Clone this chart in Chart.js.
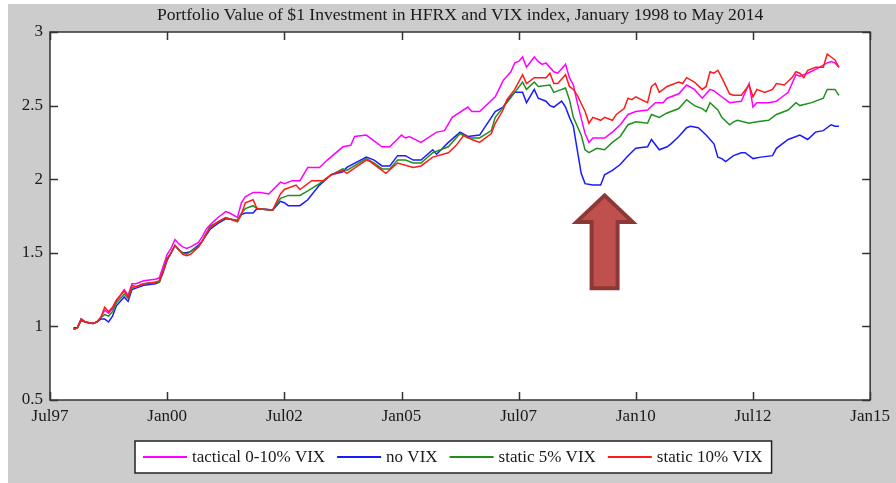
<!DOCTYPE html>
<html>
<head>
<meta charset="utf-8">
<script src="https://cdn.jsdelivr.net/npm/chart.js@4.4.1/dist/chart.umd.min.js"></script>
<style>
  html, body { margin: 0; padding: 0; background: #ffffff; overflow: hidden; }
  #wrap { position: absolute; left: 0; top: 0; width: 896px; height: 483px; }
</style>
</head>
<body>
<div id="wrap"><canvas id="c"></canvas></div>
<script>
// ---- Data (months counted from Jan 1998 = 0) ----
const chartTitle = 'Portfolio Value of $1 Investment in HFRX and VIX index, January 1998 to May 2014';
const seriesNames = ['tactical 0-10% VIX', 'no VIX', 'static 5% VIX', 'static 10% VIX'];

const xTickMonths = [-6, 24, 54, 84, 114, 144, 174, 204];
const xTickLabels = ['Jul97', 'Jan00', 'Jul02', 'Jan05', 'Jul07', 'Jan10', 'Jul12', 'Jan15'];
const yTickValues = [0.5, 1, 1.5, 2, 2.5, 3];

const tacticalMonths = [0,1,2,3,5,6,7,8,9,10,11,13,14,15,16,18,21,22,23,24,25,26,27,28,29,30,32,33,34,35,37,39,40,42,43,44,46,48,50,53,54,56,58,60,63,65,69,71,72,75,79,81,84,85,86,89,93,95,97,101,102,104,108,110,112,113,114,115,116,118,119,120,121,123,124,126,127,128,129,131,132,133,136,138,140,142,144,147,149,151,152,155,157,159,161,163,164,166,168,171,173,174,175,178,180,181,183,185,186,188,191,193,194,195,196];
const tacticalValues = [0.98,0.99,1.05,1.03,1.02,1.03,1.06,1.11,1.09,1.12,1.17,1.25,1.21,1.29,1.29,1.31,1.32,1.33,1.41,1.49,1.53,1.59,1.56,1.54,1.53,1.54,1.57,1.61,1.66,1.69,1.74,1.78,1.77,1.74,1.84,1.88,1.91,1.91,1.90,1.98,1.97,1.99,1.99,2.08,2.08,2.13,2.22,2.23,2.29,2.30,2.22,2.22,2.30,2.28,2.29,2.25,2.32,2.33,2.42,2.49,2.46,2.46,2.56,2.67,2.73,2.79,2.80,2.83,2.76,2.83,2.80,2.78,2.79,2.73,2.72,2.78,2.69,2.64,2.52,2.31,2.25,2.28,2.28,2.32,2.37,2.44,2.46,2.47,2.52,2.52,2.55,2.58,2.64,2.61,2.55,2.61,2.60,2.56,2.52,2.53,2.65,2.49,2.52,2.52,2.53,2.55,2.59,2.71,2.70,2.72,2.76,2.79,2.80,2.79,2.76];

const noVixMonths = [0,1,2,3,5,6,7,8,9,10,11,13,14,15,16,18,21,22,23,24,25,26,27,28,29,30,32,33,34,35,37,39,40,42,43,44,46,47,51,53,54,55,58,60,63,66,69,70,75,77,79,81,83,85,87,89,92,93,96,99,101,104,108,110,111,113,115,116,118,119,121,122,123,125,126,127,128,129,130,131,133,135,136,138,140,142,144,147,148,150,152,153,155,157,158,160,162,164,165,166,167,169,171,172,174,176,179,180,183,186,188,190,192,194,195,196];
const noVixValues = [0.99,0.99,1.04,1.03,1.02,1.03,1.05,1.05,1.03,1.07,1.14,1.20,1.17,1.25,1.26,1.28,1.29,1.30,1.37,1.45,1.50,1.55,1.52,1.50,1.50,1.51,1.55,1.58,1.62,1.66,1.70,1.73,1.73,1.72,1.76,1.77,1.77,1.80,1.79,1.85,1.84,1.82,1.82,1.86,1.96,2.03,2.05,2.08,2.15,2.13,2.09,2.09,2.16,2.16,2.13,2.13,2.20,2.17,2.25,2.32,2.29,2.30,2.46,2.49,2.53,2.59,2.59,2.52,2.61,2.55,2.53,2.50,2.49,2.53,2.49,2.42,2.36,2.20,2.04,1.97,1.96,1.96,2.03,2.06,2.10,2.16,2.21,2.22,2.27,2.20,2.22,2.24,2.29,2.35,2.36,2.35,2.30,2.24,2.15,2.14,2.12,2.16,2.18,2.18,2.14,2.15,2.16,2.21,2.27,2.30,2.27,2.32,2.33,2.37,2.36,2.36];

const static5Months = [0,1,2,3,5,6,7,8,9,10,11,13,14,15,16,18,21,22,23,24,25,26,27,28,29,30,32,33,34,35,37,39,40,42,43,44,46,47,51,53,54,55,58,60,63,66,69,70,75,77,79,81,83,85,87,89,92,96,99,101,104,107,108,111,113,115,116,118,119,122,123,124,126,127,128,130,131,132,134,136,138,140,142,144,147,148,150,152,155,157,159,161,162,163,165,166,168,169,170,173,175,178,180,183,185,186,189,192,193,195,196];
const static5Values = [0.98,0.99,1.05,1.03,1.02,1.03,1.06,1.08,1.07,1.10,1.16,1.22,1.19,1.26,1.27,1.29,1.30,1.30,1.38,1.46,1.50,1.55,1.52,1.50,1.49,1.51,1.54,1.58,1.63,1.68,1.71,1.74,1.73,1.72,1.77,1.80,1.82,1.80,1.79,1.87,1.88,1.89,1.89,1.92,1.97,2.03,2.07,2.06,2.14,2.11,2.07,2.07,2.13,2.13,2.11,2.11,2.18,2.22,2.31,2.28,2.28,2.33,2.42,2.52,2.59,2.66,2.61,2.66,2.63,2.64,2.59,2.60,2.62,2.54,2.42,2.30,2.20,2.18,2.21,2.20,2.25,2.29,2.37,2.39,2.38,2.44,2.42,2.45,2.48,2.54,2.50,2.48,2.46,2.52,2.47,2.42,2.37,2.39,2.40,2.38,2.39,2.40,2.44,2.47,2.52,2.50,2.52,2.55,2.61,2.61,2.57];

const static10Months = [0,1,2,3,5,6,7,8,9,10,11,13,14,15,16,18,21,22,23,24,25,26,27,28,29,30,32,33,34,35,37,39,40,42,43,44,46,47,51,53,54,57,58,61,64,66,69,70,75,76,80,83,87,89,92,96,98,100,102,104,107,108,110,111,113,115,116,118,121,122,123,124,126,127,128,129,131,132,133,135,136,138,139,141,142,143,144,147,148,149,150,152,155,156,157,159,161,162,163,164,165,166,168,169,171,173,174,175,177,179,180,182,184,185,186,187,188,190,192,193,194,195,196];
const static10Values = [0.98,0.99,1.05,1.03,1.02,1.03,1.06,1.13,1.10,1.13,1.18,1.24,1.20,1.28,1.27,1.29,1.30,1.31,1.38,1.46,1.50,1.55,1.52,1.49,1.48,1.49,1.54,1.58,1.63,1.67,1.71,1.74,1.73,1.71,1.76,1.84,1.86,1.80,1.79,1.90,1.93,1.96,1.93,1.99,1.99,2.03,2.06,2.04,2.13,2.12,2.04,2.11,2.08,2.09,2.15,2.18,2.23,2.30,2.27,2.25,2.31,2.38,2.47,2.54,2.61,2.71,2.65,2.69,2.69,2.72,2.65,2.65,2.71,2.63,2.61,2.57,2.46,2.38,2.42,2.40,2.42,2.40,2.44,2.48,2.55,2.54,2.56,2.52,2.63,2.65,2.59,2.63,2.66,2.65,2.69,2.66,2.61,2.63,2.73,2.72,2.74,2.69,2.58,2.57,2.57,2.64,2.56,2.61,2.59,2.61,2.65,2.64,2.69,2.73,2.72,2.69,2.74,2.76,2.76,2.85,2.83,2.81,2.76];

// annotation arrow anchored in data coordinates
const arrowMonth = 136;
const arrowTipValue = 1.89;
const arrowNeckValue = 1.71;
const arrowBaseValue = 1.26;

const seriesColors = ['#ff00ff', '#1a1aff', '#1f8f1f', '#ff1a1a'];

// ---- helpers ----
function pts(ms, vs) { return ms.map((m, i) => ({ x: m, y: vs[i] })); }
const FONT = '"Liberation Serif", "Times New Roman", serif';

const bgPlugin = {
  id: 'bg',
  beforeDraw(chart) {
    const ctx = chart.ctx;
    ctx.save();
    ctx.fillStyle = '#ffffff';
    ctx.fillRect(0, 0, chart.width, chart.height);
    ctx.fillStyle = '#cccccc';
    ctx.fillRect(8, 4, chart.width - 8, chart.height - 4);
    const a = chart.chartArea;
    ctx.fillStyle = '#ffffff';
    ctx.fillRect(a.left, a.top, a.right - a.left, a.bottom - a.top);
    ctx.restore();
  }
};

const framePlugin = {
  id: 'frame',
  afterDraw(chart) {
    const ctx = chart.ctx;
    const a = chart.chartArea;
    const xs = chart.scales.x, ys = chart.scales.y;
    ctx.save();
    ctx.strokeStyle = '#333333';
    ctx.lineWidth = 1.5;
    ctx.strokeRect(a.left, a.top, a.right - a.left, a.bottom - a.top);
    const tl = 8;
    ctx.beginPath();
    xs.ticks.forEach(t => {
      const px = Math.round(xs.getPixelForValue(t.value)) + 0.5;
      ctx.moveTo(px, a.bottom); ctx.lineTo(px, a.bottom - tl);
      ctx.moveTo(px, a.top); ctx.lineTo(px, a.top + tl);
    });
    ys.ticks.forEach(t => {
      const py = Math.round(ys.getPixelForValue(t.value)) + 0.5;
      ctx.moveTo(a.left, py); ctx.lineTo(a.left + tl, py);
      ctx.moveTo(a.right, py); ctx.lineTo(a.right - tl, py);
    });
    ctx.stroke();

    // title
    ctx.fillStyle = '#1a1a1a';
    ctx.font = '17.6px ' + FONT;
    ctx.textAlign = 'center';
    ctx.textBaseline = 'middle';
    ctx.fillText(chartTitle, (a.left + a.right) / 2, 15);

    // arrow annotation
    const cx = xs.getPixelForValue(arrowMonth);
    const yt = ys.getPixelForValue(arrowTipValue);
    const yn = ys.getPixelForValue(arrowNeckValue);
    const yb = ys.getPixelForValue(arrowBaseValue);
    const hw = 28, bw = 13;
    ctx.beginPath();
    ctx.moveTo(cx, yt);
    ctx.lineTo(cx + hw, yn);
    ctx.lineTo(cx + bw, yn);
    ctx.lineTo(cx + bw, yb);
    ctx.lineTo(cx - bw, yb);
    ctx.lineTo(cx - bw, yn);
    ctx.lineTo(cx - hw, yn);
    ctx.closePath();
    ctx.fillStyle = '#c0504d';
    ctx.fill();
    ctx.lineJoin = 'miter';
    ctx.lineWidth = 4;
    ctx.strokeStyle = '#8c3836';
    ctx.stroke();

    // legend box
    ctx.font = '17px ' + FONT;
    const lineLen = 44, gapLT = 5, gapItem = 12, padL = 8, padR = 9;
    const widths = seriesNames.map(n => ctx.measureText(n).width);
    const total = padL + padR + seriesNames.length * (lineLen + gapLT) + widths.reduce((s, w) => s + w, 0) + (seriesNames.length - 1) * gapItem;
    const bx = Math.round(453.5 - total / 2), by = 441, bh = 32;
    ctx.fillStyle = '#ffffff';
    ctx.fillRect(bx, by, total, bh);
    ctx.lineWidth = 1.5;
    ctx.strokeStyle = '#222222';
    ctx.strokeRect(bx, by, total, bh);
    let x = bx + padL;
    const cy = by + bh / 2;
    ctx.textAlign = 'left';
    ctx.textBaseline = 'middle';
    seriesNames.forEach((n, i) => {
      ctx.strokeStyle = seriesColors[i];
      ctx.lineWidth = 2;
      ctx.beginPath();
      ctx.moveTo(x, cy); ctx.lineTo(x + lineLen, cy);
      ctx.stroke();
      x += lineLen + gapLT;
      ctx.fillStyle = '#1a1a1a';
      ctx.fillText(n, x, cy + 1);
      x += widths[i] + gapItem;
    });
    ctx.restore();
  }
};

const allMonths = [tacticalMonths, noVixMonths, static5Months, static10Months];
const allValues = [tacticalValues, noVixValues, static5Values, static10Values];
const drawOrder = [3, 2, 1, 0];

new Chart(document.getElementById('c'), {
  type: 'line',
  data: {
    datasets: seriesNames.map((n, i) => ({
      label: n,
      data: pts(allMonths[i], allValues[i]),
      borderColor: seriesColors[i],
      backgroundColor: seriesColors[i],
      borderWidth: 1.5,
      pointRadius: 0,
      tension: 0,
      fill: false,
      order: drawOrder[i]
    }))
  },
  options: {
    responsive: true,
    maintainAspectRatio: false,
    animation: false,
    events: [],
    layout: { padding: { left: 0, top: 32, right: 20, bottom: 0 } },
    plugins: { legend: { display: false }, title: { display: false }, tooltip: { enabled: false } },
    scales: {
      x: {
        type: 'linear',
        min: xTickMonths[0],
        max: xTickMonths[xTickMonths.length - 1],
        afterBuildTicks: s => { s.ticks = xTickMonths.map(v => ({ value: v })); },
        afterFit: s => { s.height = 83; },
        grid: { display: false, drawTicks: false },
        border: { display: false },
        ticks: {
          autoSkip: false, maxRotation: 0, padding: 6,
          color: '#1a1a1a',
          font: { family: FONT, size: 17 },
          callback: v => xTickLabels[xTickMonths.indexOf(v)]
        }
      },
      y: {
        min: yTickValues[0],
        max: yTickValues[yTickValues.length - 1],
        afterBuildTicks: s => { s.ticks = yTickValues.map(v => ({ value: v })); },
        afterFit: s => { s.width = 50; },
        grid: { display: false, drawTicks: false },
        border: { display: false },
        ticks: {
          padding: 7,
          color: '#1a1a1a',
          font: { family: FONT, size: 17 },
          callback: v => String(v)
        }
      }
    }
  },
  plugins: [bgPlugin, framePlugin]
});
</script>
</body>
</html>
